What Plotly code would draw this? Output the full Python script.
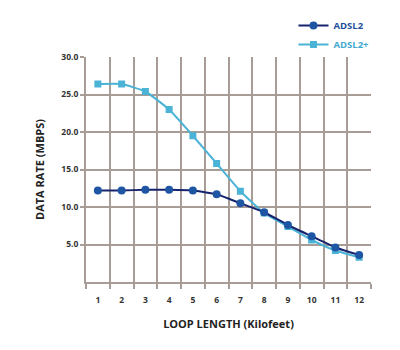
import plotly.graph_objects as go

loop_kft = [1, 2, 3, 4, 5, 6, 7, 8, 9, 10, 11, 12]
adsl2 = [12.2, 12.2, 12.3, 12.3, 12.2, 11.7, 10.5, 9.3, 7.6, 6.1, 4.6, 3.6]
adsl2plus = [26.4, 26.4, 25.4, 23.0, 19.5, 15.8, 12.1, 9.2, 7.4, 5.6, 4.2, 3.3]
y_ticks = [5, 10, 15, 20, 25, 30]
y_labels = ["5.0", "10.0", "15.0", "20.0", "25.0", "30.0"]
cell_edges = [0.5 + i for i in range(13)]

DARK_LINE = "#16246e"
DARK_MK = "#1e56a4"
LIGHT = "#4bb3d6"
GRID = "#a89d96"

fig = go.Figure()
fig.add_trace(go.Scatter(
    x=loop_kft, y=adsl2plus, mode="lines+markers",
    name="<b><span style='color:#3fa9d0'>ADSL2+</span></b>",
    line=dict(color=LIGHT, width=2, shape="spline", smoothing=0.4),
    marker=dict(symbol="square", size=7, color=LIGHT),
    legendrank=2,
))
fig.add_trace(go.Scatter(
    x=loop_kft, y=adsl2, mode="lines+markers",
    name="<b><span style='color:#1d4f9c'>ADSL2</span></b>",
    line=dict(color=DARK_LINE, width=2, shape="spline", smoothing=0.4),
    marker=dict(symbol="circle", size=8, color=DARK_MK),
    legendrank=1,
))

fig.update_layout(
    width=400, height=350,
    margin=dict(l=86, r=29, t=57, b=68, autoexpand=False),
    paper_bgcolor="white", plot_bgcolor="white",
    font=dict(family="Open Sans", color="#222222"),
    showlegend=True,
    legend=dict(x=0.728, y=1.205, xanchor="left", yanchor="top",
                font=dict(size=9.5), bgcolor="rgba(0,0,0,0)",
                itemwidth=30, tracegroupgap=0),
    xaxis=dict(
        range=[0.5, 12.5], tickvals=loop_kft, ticktext=["<b>%d</b>" % v for v in loop_kft],
        showgrid=False, ticks="", ticklabelstandoff=9,
        tickfont=dict(size=8.5, family="Open Sans", color="#333333"),
        showline=True, linecolor=GRID, linewidth=2,
        minor=dict(tickvals=cell_edges, showgrid=True, gridcolor=GRID, gridwidth=1.5,
                   ticks="outside", ticklen=5, tickcolor=GRID, tickwidth=1.5),
        zeroline=False,
        title=dict(text="<b>LOOP LENGTH (Kilofeet)</b>", font=dict(size=11, color="#222222"), standoff=16),
    ),
    yaxis=dict(
        range=[0, 30], tickvals=y_ticks, ticktext=["<b>%s</b>" % t for t in y_labels],
        showgrid=True, gridcolor=GRID, gridwidth=1.5,
        ticks="outside", ticklen=4, tickcolor=GRID, tickwidth=1.5,
        tickfont=dict(size=8.5, family="Open Sans", color="#333333"),
        showline=True, linecolor=GRID, linewidth=2, zeroline=False,
        title=dict(text="<b>DATA RATE (MBPS)</b>", font=dict(size=11, color="#222222"), standoff=14),
    ),
)

fig.write_html("out.html")
